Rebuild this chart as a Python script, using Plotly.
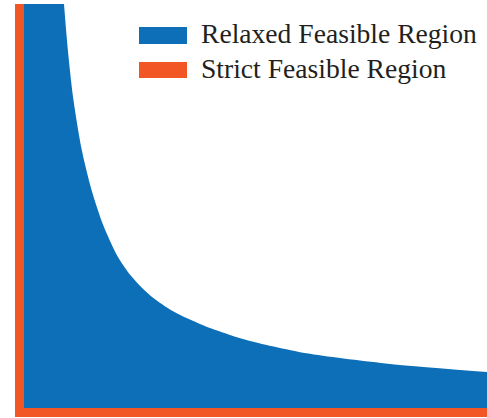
import plotly.graph_objects as go

# Relaxed feasible region: flat cap along the top, then the decaying boundary
cap_x = [0.0, 0.864]
cap_y = [10.0, 10.0]
relaxed_x = [0.864, 0.944, 1.065, 1.246, 1.425, 1.533, 1.706, 1.836, 2.030,
             2.333, 2.721, 3.153, 3.585, 4.017, 4.449, 4.881, 6.177, 7.905, 10.0]
relaxed_y = [10.0, 8.90, 7.65, 6.40, 5.54, 5.12, 4.54, 4.19, 3.74,
             3.24, 2.79, 2.44, 2.19, 1.98, 1.81, 1.66, 1.34, 1.09, 0.89]

# Strict feasible region: thin L-shaped band along the axes
strict_x = [-0.194, 0.0, 0.0, 10.0, 10.0, -0.194]
strict_y = [10.0, 10.0, 0.0, 0.0, -0.223, -0.223]

series_names = ["Relaxed Feasible Region", "Strict Feasible Region"]
BLUE = "#0d6fb7"
ORANGE = "#f25624"

fig = go.Figure()
fig.add_trace(go.Scatter(
    x=cap_x, y=cap_y, mode="lines", fill="tozeroy",
    fillcolor=BLUE, line=dict(width=0, color=BLUE), name=series_names[0],
    showlegend=False, hoverinfo="skip"))
fig.add_trace(go.Scatter(
    x=relaxed_x, y=relaxed_y, mode="lines", fill="tozeroy",
    fillcolor=BLUE, line=dict(width=0, color=BLUE, shape="spline", smoothing=0.8),
    name=series_names[0], showlegend=False, hoverinfo="skip"))
fig.add_trace(go.Scatter(
    x=strict_x, y=strict_y, mode="lines", fill="toself",
    fillcolor=ORANGE, line=dict(width=0, color=ORANGE), name=series_names[1],
    showlegend=False, hoverinfo="skip"))

W, H = 487, 418
# manual legend (swatches + labels): (swatch top px, swatch bottom px, text centre px)
legend_rows = [(27, 44, 33.5, BLUE, series_names[0]),
               (62, 78, 68.5, ORANGE, series_names[1])]
shapes = []
annotations = []
for top, bot, tc, col, name in legend_rows:
    shapes.append(dict(type="rect", xref="paper", yref="paper",
                       x0=139 / W, x1=187 / W, y0=1 - bot / H, y1=1 - top / H,
                       fillcolor=col, line=dict(width=0)))
    annotations.append(dict(xref="paper", yref="paper", x=199 / W,
                            y=1 - tc / H,
                            xanchor="left", yanchor="middle", showarrow=False,
                            text=name,
                            font=dict(family="Liberation Serif", size=27.6, color="#231f20")))

fig.update_layout(
    width=W, height=H,
    margin=dict(l=0, r=0, t=0, b=0),
    paper_bgcolor="white", plot_bgcolor="white",
    xaxis=dict(range=[-24 / 46.3, (W - 24) / 46.3], visible=False, fixedrange=True),
    yaxis=dict(range=[(408 - H) / 40.4, 408 / 40.4], visible=False, fixedrange=True),
    shapes=shapes, annotations=annotations, showlegend=False,
)

fig.write_html("out.html", config={"displayModeBar": False},
               post_script="document.body.style.margin='0';document.body.style.overflow='hidden';")
